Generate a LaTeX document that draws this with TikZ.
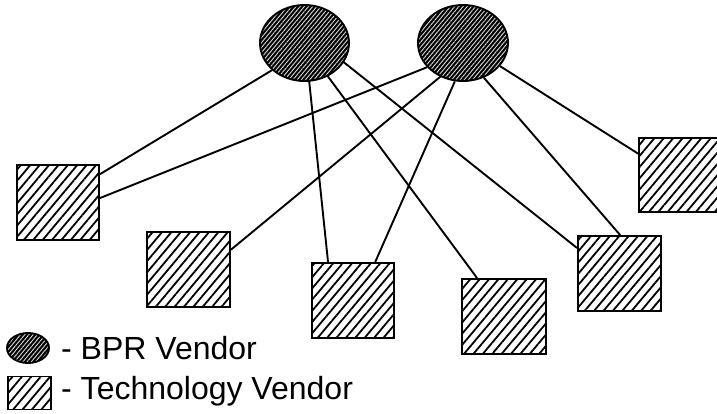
\documentclass[tikz,border=0pt]{standalone}
\usepackage{fontspec}
\setmainfont{Liberation Sans}
\usetikzlibrary{patterns.meta,shapes.geometric}
\tikzset{
  bpr/.style={ellipse, draw=black, line width=1.9pt, inner sep=0pt,
    preaction={fill=black},
    pattern={Lines[angle=50,distance=3.2pt,line width=0.9pt]}, pattern color=white!85!black},
  tech/.style={rectangle, draw=black, line width=1.9pt, inner sep=0pt, fill=white,
    postaction={pattern={Lines[angle=50,distance=7.2pt,line width=1.8pt]}, pattern color=black}},
  link/.style={line width=1.9pt, black},
  lbl/.style={anchor=base west, inner sep=0pt, font=\fontsize{32}{36}\selectfont}
}
\begin{document}
\begin{tikzpicture}[x=1pt,y=1pt]
\clip (0,0) rectangle (717,-414);
\fill[white] (0,0) rectangle (717,-414);
\node[bpr, minimum width=89pt, minimum height=76pt] (e1) at (304.5,-43) {};
\node[bpr, minimum width=90pt, minimum height=76pt] (e2) at (463,-43) {};
\node[tech, minimum width=82pt, minimum height=75pt] (s1) at (58,-202.5) {};
\node[tech, minimum width=83pt, minimum height=75pt] (s2) at (188.5,-269.5) {};
\node[tech, minimum width=82pt, minimum height=75pt] (s3) at (353,-300.5) {};
\node[tech, minimum width=84pt, minimum height=75pt] (s4) at (504,-316.5) {};
\node[tech, minimum width=83pt, minimum height=75pt] (s5) at (619.5,-273.5) {};
\node[tech, minimum width=82pt, minimum height=74pt] (s6) at (680,-175) {};
\draw[link] (e1.220) -- (s1.34);
\draw[link] (e1.277) -- (s3.123);
\draw[link] (e1.305) -- (s4.125);
\draw[link] (e1.334) -- (s5.149);
\draw[link] (e2.214) -- (s1.6);
\draw[link] (e2.236) -- (s2.25);
\draw[link] (e2.258) -- (s3.60);
\draw[link] (e2.301) -- (s5.89);
\draw[link] (e2.328) -- (s6.153);
% legend
\node[bpr, minimum width=42pt, minimum height=30pt] (le) at (28,-348) {};
\node[tech, minimum width=43pt, minimum height=33pt] (ls) at (29.5,-393) {};
\node[lbl] (t1) at (61,-359) {- BPR Vendor};
\node[lbl] (t2) at (61,-399) {- Technology Vendor};
\end{tikzpicture}
\end{document}
